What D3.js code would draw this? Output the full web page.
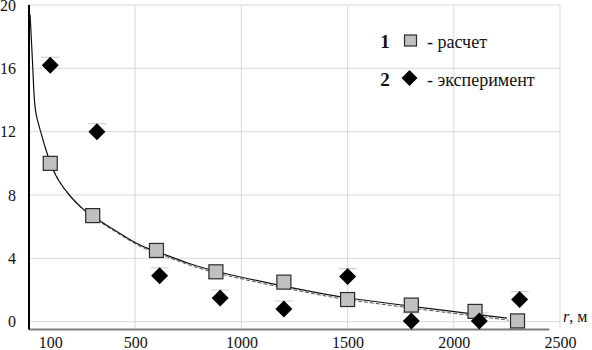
<!DOCTYPE html>
<meta charset="utf-8">
<style>
body { margin: 0; background: #fff; }
svg text { font-family: "Liberation Serif", "Times New Roman", "DejaVu Serif", serif; fill: #111; }
.grid line { stroke: #d9d9d9; stroke-width: 1; }
</style>
<body>
<script src="https://d3js.org/d3.v7.min.js"></script>
<script>

// calculated points (squares)
var calcR = [100, 300, 600, 880, 1200, 1500, 1800, 2100, 2300];
var calcV = [10.0, 6.7, 4.5, 3.15, 2.5, 1.4, 1.05, 0.65, 0.05];

// experimental points (diamonds)
var expR = [100, 320, 615, 900, 1200, 1500, 1800, 2120, 2310];
var expV = [16.2, 12.0, 2.9, 1.5, 0.8, 2.85, 0.05, 0.05, 1.4];
var expErr = 0.5;

// fitted curve
var curveR = [5, 18, 24, 33, 55, 76, 100, 131, 200, 250, 300, 383, 463, 549, 600, 762, 900, 1157, 1425, 1500, 1700, 1900, 2135, 2250];
var curveV = [19.4, 16.1, 14.0, 13.0, 12.0, 11.0, 10.0, 9.0, 7.8, 7.15, 6.65, 5.95, 5.26, 4.65, 4.45, 3.6, 3.1, 2.35, 1.65, 1.5, 1.15, 0.8, 0.42, 0.22];

var xTicks = [100, 500, 1000, 1500, 2000, 2500];
var xGrid = [500, 1000, 1500, 2000, 2500];
var yTicks = [0, 4, 8, 12, 16, 20];

var width = 592, height = 350;

var x = d3.scaleLinear().domain([0, 2500]).range([29, 560]);
var y = d3.scaleLinear().domain([0, 20]).range([321.7, 5]);

var svg = d3.select("body").append("svg")
    .attr("width", width)
    .attr("height", height);

// grid
var grid = svg.append("g").attr("class", "grid");
grid.selectAll(".h").data(yTicks).enter().append("line")
    .attr("x1", x(0)).attr("x2", x(2500))
    .attr("y1", function(d) { return y(d); })
    .attr("y2", function(d) { return y(d); });
grid.selectAll(".v").data(xGrid).enter().append("line")
    .attr("x1", function(d) { return x(d); })
    .attr("x2", function(d) { return x(d); })
    .attr("y1", y(20)).attr("y2", y(-0.5));

// axes
var yAxis = svg.append("g")
    .attr("transform", "translate(" + x(0) + ",0)")
    .call(d3.axisLeft(y).tickValues(yTicks).tickSize(0).tickPadding(13).tickFormat(d3.format("d")));
yAxis.select(".domain").remove();
yAxis.attr("font-family", null);
yAxis.selectAll("text").style("font-size", "16px");

var xAxis = svg.append("g")
    .attr("transform", "translate(0," + y(-0.5) + ")")
    .call(d3.axisBottom(x).tickValues(xTicks).tickSize(0).tickPadding(7).tickFormat(d3.format("d")));
xAxis.select(".domain").remove();
xAxis.attr("font-family", null);
xAxis.selectAll("text").style("font-size", "16px");

svg.append("line")
    .attr("x1", x(0)).attr("x2", x(2450))
    .attr("y1", y(-0.5)).attr("y2", y(-0.5))
    .attr("stroke", "#7f7f7f").attr("stroke-width", 2);
svg.append("line")
    .attr("x1", x(0)).attr("x2", x(0))
    .attr("y1", y(20)).attr("y2", y(-0.5))
    .attr("stroke", "#000").attr("stroke-width", 2);

// curve (two close lines)
var pts = curveR.map(function(r, i) { return [r, curveV[i]]; });
var line = d3.line()
    .x(function(d) { return x(d[0]); })
    .y(function(d) { return y(d[1]); })
    .curve(d3.curveBasis);

svg.append("path")
    .datum(pts.filter(function(d) { return d[0] >= 100; }))
    .attr("d", line)
    .attr("fill", "none")
    .attr("stroke", "#555")
    .attr("stroke-width", 1)
    .attr("stroke-dasharray", "4,2")
    .attr("transform", "translate(1.5,2)");
svg.append("path")
    .datum(pts)
    .attr("d", line)
    .attr("fill", "none")
    .attr("stroke", "#111")
    .attr("stroke-width", 1.2);

// error caps over experiment points
svg.selectAll(".cap").data(expR).enter().append("line")
    .attr("x1", function(d) { return x(d) - 9; })
    .attr("x2", function(d) { return x(d) + 9; })
    .attr("y1", function(d, i) { return y(expV[i] + expErr); })
    .attr("y2", function(d, i) { return y(expV[i] + expErr); })
    .attr("stroke", "#c8c8c8").attr("stroke-width", 1);

function diamond(s) {
  return "M0," + (-s) + "L" + s + ",0L0," + s + "L" + (-s) + ",0Z";
}

// squares
svg.selectAll(".sq").data(calcR).enter().append("rect")
    .attr("x", function(d) { return x(d) - 7; })
    .attr("y", function(d, i) { return y(calcV[i]) - 7; })
    .attr("width", 14).attr("height", 14)
    .attr("fill", "#c0c0c0")
    .attr("stroke", "#2b2b2b").attr("stroke-width", 1.2);

// diamonds
svg.selectAll(".dm").data(expR).enter().append("path")
    .attr("d", diamond(8.5))
    .attr("transform", function(d, i) { return "translate(" + x(d) + "," + y(expV[i]) + ")"; })
    .attr("fill", "#000");

// axis title
var rt = svg.append("text")
    .attr("x", 563).attr("y", 322)
    .style("font-size", "16px");
rt.append("tspan").style("font-style", "italic").text("r");
rt.append("tspan").text(", м");

// legend
var leg = svg.append("g");
leg.append("text").attr("x", 385).attr("y", 47.5)
    .attr("text-anchor", "middle")
    .style("font-size", "19px").style("font-weight", "bold").text("1");
leg.append("rect").attr("x", 404.5).attr("y", 35).attr("width", 12).attr("height", 11)
    .attr("fill", "#c0c0c0").attr("stroke", "#2b2b2b").attr("stroke-width", 1.2);
leg.append("text").attr("x", 427).attr("y", 47.5)
    .style("font-size", "18px").text("- расчет");

leg.append("text").attr("x", 385).attr("y", 86)
    .attr("text-anchor", "middle")
    .style("font-size", "19px").style("font-weight", "bold").text("2");
leg.append("path").attr("d", diamond(8))
    .attr("transform", "translate(409.5,78)")
    .attr("fill", "#000");
leg.append("text").attr("x", 427).attr("y", 86)
    .style("font-size", "18px").text("- эксперимент");

</script>
</body>
